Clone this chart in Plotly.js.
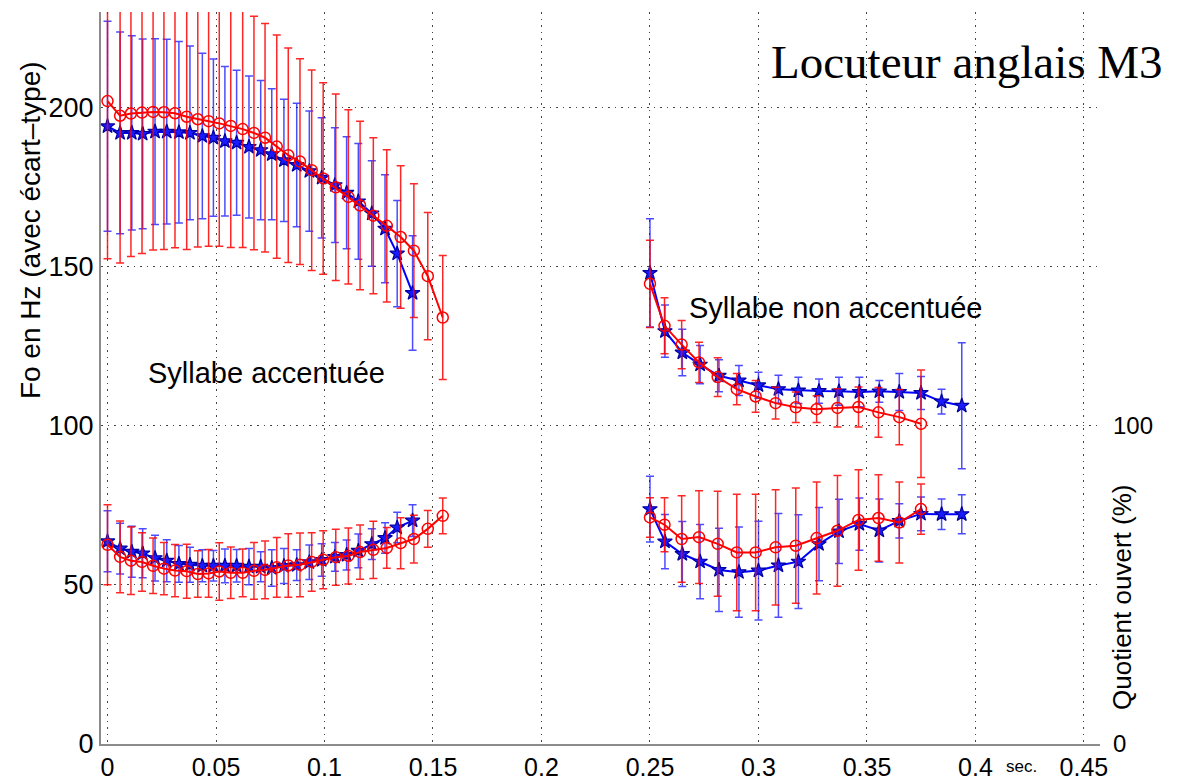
<!DOCTYPE html>
<html>
<head>
<meta charset="utf-8">
<script src="https://cdn.plot.ly/plotly-3.0.1.min.js"></script>
<style>
  html, body { margin: 0; padding: 0; background: #fff; }
  #chart { width: 1182px; height: 783px; }
</style>
</head>
<body>
<div id="chart"></div>
<script>
// ---- Data (time in seconds) ----
// Accented syllable (left group)
const redTimeA = [0, 0.0058, 0.0108, 0.0159, 0.0210, 0.0260, 0.0311, 0.0365, 0.0416, 0.0466, 0.0515, 0.0568, 0.0623, 0.0675, 0.0726, 0.0780, 0.0833, 0.0887, 0.0941, 0.0994, 0.1052, 0.1110, 0.1164, 0.1225, 0.1287, 0.1351, 0.1412, 0.1476, 0.1545];
const redF0A = [202, 197.4, 198.1, 198.4, 198.6, 198.5, 198.2, 197.1, 196.3, 195.7, 195, 194.2, 193.2, 192, 190.5, 187.7, 185, 183, 180.3, 177.7, 174.9, 171.9, 169.2, 166, 162.8, 159.3, 155, 147, 134];
const redF0sdA = [49.5, 46.3, 44.9, 44.3, 43.4, 43.1, 42.3, 41.7, 40.1, 39.3, 38.6, 38.2, 37.2, 36.7, 35.9, 35.1, 33.7, 32.3, 31.5, 30.1, 29.3, 27.4, 26.5, 24.5, 23.9, 22.4, 21, 20, 19.5];
const redOQA = [62.6, 58.8, 57.6, 57.2, 56, 55.1, 54.5, 54.3, 53.4, 53.6, 54.2, 53.8, 53.8, 54.4, 54.7, 55.5, 56.1, 56.3, 57.2, 57.9, 58.7, 59.1, 60.3, 61, 61.6, 63.1, 64.4, 67.6, 71.7];
const redOQsdA = [12.6, 11.3, 10.6, 9.2, 8.7, 8.2, 8.2, 8.5, 7.3, 7.5, 9, 8.1, 7.5, 8.9, 9.1, 9.4, 10, 10, 9.2, 9.1, 8.8, 8.8, 8.5, 9, 6.4, 8, 7.5, 5.8, 5.6];

const blueTimeA = [0, 0.0058, 0.0112, 0.0162, 0.0219, 0.0273, 0.0329, 0.0380, 0.0437, 0.0488, 0.0541, 0.0595, 0.0652, 0.0706, 0.0757, 0.0813, 0.0872, 0.0930, 0.0987, 0.1048, 0.1102, 0.1156, 0.1218, 0.1279, 0.1335, 0.1406];
const blueF0A = [194.1, 192.0, 192.0, 191.7, 192.4, 192.4, 192.2, 192.0, 191.0, 190.5, 189.4, 188.9, 187.6, 186.6, 185.3, 183.4, 181.9, 180.0, 177.9, 175.6, 173.2, 170.5, 166.7, 161.9, 154.1, 141.7];
const blueF0sdA = [33, 31.7, 30.5, 29.8, 29.2, 29, 28.5, 27.3, 26, 24.7, 23.5, 22.8, 22.3, 21.9, 20.6, 19.2, 19.4, 18.9, 18.9, 18, 17.6, 18.2, 16.6, 17, 16.7, 18];
const blueOQA = [63.7, 61.4, 60.4, 59.9, 58.4, 57.6, 56.6, 56.3, 56, 56, 56, 56, 55.7, 55.7, 55.3, 55.9, 56.2, 57.1, 57.8, 58.8, 59.4, 60.7, 62.8, 64.7, 68, 70.2];
const blueOQsdA = [9.6, 8, 8, 7.7, 7.2, 6.6, 5.8, 5.5, 5, 4.8, 5.3, 5.1, 5.7, 4.7, 5.7, 5.5, 4.8, 5.4, 5.1, 4.5, 4.7, 5.3, 4.8, 4.8, 4.8, 5];

// Unaccented syllable (right group)
const redTimeU = [0.25, 0.2567, 0.2646, 0.2726, 0.2812, 0.2900, 0.2987, 0.3079, 0.3172, 0.3268, 0.3364, 0.3461, 0.3553, 0.3649, 0.3749];
const redF0U = [144.6, 131.4, 125.5, 119.9, 115.3, 111.5, 109.2, 107.1, 105.8, 105.2, 105.6, 105.9, 104.2, 102.7, 100.6];
const redF0sdU = [13.7, 8.8, 7.6, 6.3, 6.1, 4.9, 5, 5, 4.8, 4.2, 6, 6.3, 7.8, 8.7, 16.9];
const redOQU = [71.2, 68.9, 64.4, 65.0, 62.9, 60.2, 60.2, 61.8, 62.3, 64.7, 67.0, 70.4, 71.0, 69.6, 73.8];
const redOQsdU = [6.2, 8.5, 13.6, 14.6, 16.5, 18.3, 18.3, 18.1, 18.1, 17.6, 17.4, 15.8, 13.6, 12.7, 7.9];

const blueTimeU = [0.25, 0.2569, 0.2649, 0.2731, 0.2818, 0.2910, 0.3000, 0.3092, 0.3184, 0.3279, 0.3371, 0.3465, 0.3557, 0.3649, 0.3749, 0.3844, 0.3937];
const blueF0U = [148.0, 129.7, 123.0, 119.2, 115.7, 114.2, 112.7, 111.5, 111.1, 110.9, 110.8, 110.6, 110.8, 110.6, 110.3, 107.6, 106.3];
const blueF0sdU = [17, 8.2, 7.3, 6, 5, 4.7, 4.1, 4.4, 4.1, 3.8, 4.4, 4.6, 3.4, 5.8, 5.2, 3.9, 19.8];
const blueOQU = [73.8, 63.6, 59.7, 57.3, 54.7, 54.0, 54.5, 56.1, 57.3, 62.8, 66.8, 69.1, 67.1, 70.1, 72.3, 72.2, 72.2];
const blueOQsdU = [10.3, 8.5, 10.2, 11.7, 13.1, 14.2, 15.5, 16.3, 14.7, 11.5, 10.1, 8.2, 9.9, 5.4, 5.3, 4.8, 6.1];

const xTicks = [0, 0.05, 0.1, 0.15, 0.2, 0.25, 0.3, 0.35, 0.4, 0.45];
const yTicksLeft = [0, 50, 100, 150, 200];
const yTicksRight = [0, 100];

// ---- Styles ----
const RED = '#ff0000', BLUE = '#0000ff';
function series(x, y, sd, color, isRed) {
  return {
    x: x, y: y, type: 'scatter', mode: 'lines+markers',
    line: { color: color, width: 2 },
    marker: isRed
      ? { symbol: 'circle-open', size: 11, color: color, line: { color: color, width: 1.5 } }
      : { symbol: 'star', size: 11, color: '#1a1aff', line: { color: '#0000a0', width: 1.2 } },
    error_y: { type: 'data', array: sd, visible: true, color: isRed ? 'rgba(255,0,0,0.85)' : 'rgba(0,0,255,0.7)', thickness: 1.5, width: 4 },
    showlegend: false, hoverinfo: 'x+y', cliponaxis: true
  };
}

const traces = [
  series(blueTimeA, blueF0A, blueF0sdA, BLUE, false),
  series(blueTimeA, blueOQA, blueOQsdA, BLUE, false),
  series(blueTimeU, blueF0U, blueF0sdU, BLUE, false),
  series(blueTimeU, blueOQU, blueOQsdU, BLUE, false),
  series(redTimeA, redF0A, redF0sdA, RED, true),
  series(redTimeA, redOQA, redOQsdA, RED, true),
  series(redTimeU, redF0U, redF0sdU, RED, true),
  series(redTimeU, redOQU, redOQsdU, RED, true),
  // invisible trace to activate right axis
  { x: [0], y: [0], yaxis: 'y2', type: 'scatter', mode: 'markers', marker: { opacity: 0 }, showlegend: false, hoverinfo: 'skip' }
];

const sans = 'Liberation Sans, Arial, sans-serif';
const xTickFont = { family: sans, size: 25, color: '#000' };
const yTickFont = { family: sans, size: 27, color: '#000' };

const layout = {
  width: 1182, height: 783,
  margin: { l: 101, r: 82, t: 12, b: 39 },
  paper_bgcolor: '#fff', plot_bgcolor: '#fff',
  xaxis: {
    range: [-0.003, 0.4574], tickvals: xTicks, ticktext: xTicks.map(String),
    showgrid: true, gridcolor: '#444', griddash: '1.5px,5px', gridwidth: 1,
    zeroline: false, showline: true, linecolor: '#8c8c8c', linewidth: 2,
    ticks: '', tickfont: xTickFont, ticklabelstandoff: 0
  },
  yaxis: {
    range: [0, 230], tickvals: yTicksLeft,
    showgrid: true, gridcolor: '#444', griddash: '1.5px,5px', gridwidth: 1,
    zeroline: false, showline: true, linecolor: '#8c8c8c', linewidth: 2,
    ticks: '', tickfont: yTickFont, ticklabelstandoff: 0
  },
  yaxis2: {
    overlaying: 'y', side: 'right', range: [0, 230], tickvals: yTicksRight,
    showgrid: false, zeroline: false, showline: false, ticks: '',
    tickfont: { family: sans, size: 24, color: '#000' }, ticklabelstandoff: 12
  },
  annotations: [
    { text: 'Locuteur anglais M3', xref: 'paper', yref: 'paper', x: 1.065, y: 0.932, xanchor: 'right', yanchor: 'middle', showarrow: false,
      font: { family: 'Liberation Serif, Times New Roman, serif', size: 47, color: '#000' } },
    { text: 'Syllabe accentuée', xref: 'paper', yref: 'paper', x: 0.1657, y: 0.507, xanchor: 'center', yanchor: 'middle', showarrow: false,
      font: { family: sans, size: 29, color: '#000' } },
    { text: 'Syllabe non accentuée', xref: 'paper', yref: 'paper', x: 0.7357, y: 0.5956, xanchor: 'center', yanchor: 'middle', showarrow: false,
      font: { family: sans, size: 29, color: '#000' } },
    { text: 'Fo en Hz (avec écart–type)', xref: 'paper', yref: 'paper', x: -0.0711, y: 0.702, xanchor: 'center', yanchor: 'middle', textangle: -90, showarrow: false,
      font: { family: sans, size: 28, color: '#000' } },
    { text: 'Quotient ouvert (%)', xref: 'paper', yref: 'paper', x: 1.022, y: 0.2008, xanchor: 'center', yanchor: 'middle', textangle: -90, showarrow: false,
      font: { family: sans, size: 26, color: '#000' } },
    { text: 'sec.', xref: 'paper', yref: 'paper', x: 0.921, y: -0.031, xanchor: 'center', yanchor: 'middle', showarrow: false,
      font: { family: sans, size: 17, color: '#000' } }
  ]
};

Plotly.newPlot('chart', traces, layout, { displayModeBar: false, staticPlot: true });
</script>
</body>
</html>
